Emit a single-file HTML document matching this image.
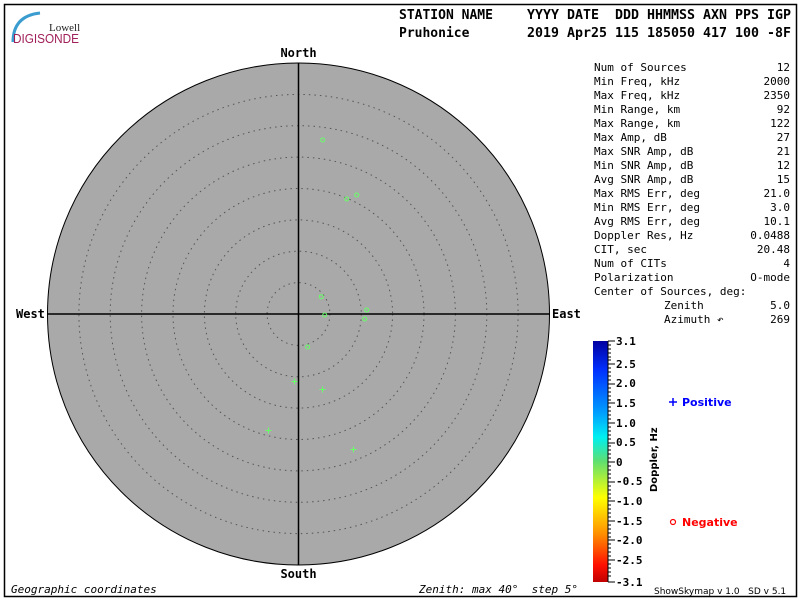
<!DOCTYPE html>
<html><head><meta charset="utf-8"><style>
body{margin:0;background:#fff;}
svg text{font-family:"DejaVu Sans Mono","Liberation Mono",monospace;white-space:pre;}
</style></head><body>
<svg width="800" height="600" xmlns="http://www.w3.org/2000/svg" xml:space="preserve">
<defs>
<linearGradient id="cb" x1="0" y1="0" x2="0" y2="1">
<stop offset="0" stop-color="#0000a0"/>
<stop offset="0.12" stop-color="#0030ff"/>
<stop offset="0.3" stop-color="#00a0ff"/>
<stop offset="0.4" stop-color="#00f0f0"/>
<stop offset="0.5" stop-color="#60e070"/>
<stop offset="0.65" stop-color="#ffff00"/>
<stop offset="0.8" stop-color="#ff9000"/>
<stop offset="0.93" stop-color="#ff1000"/>
<stop offset="1" stop-color="#c00000"/>
</linearGradient>
</defs>
<rect x="4.5" y="4.5" width="792" height="592" fill="none" stroke="#000" stroke-width="1.5"/>
<path d="M13 42 Q13 16 40 13" fill="none" stroke="#3a9ccf" stroke-width="3"/>
<text x="49" y="31" font-size="11" fill="#222" style="font-family:'Liberation Serif',serif">Lowell</text>
<text x="13" y="43" font-size="13" fill="#a0205a" textLength="66" lengthAdjust="spacingAndGlyphs" style="font-family:'Liberation Sans',sans-serif">DIGISONDE</text>
<g font-weight="bold" font-size="13" fill="#000">
<text x="399" y="19">STATION NAME</text>
<text x="527" y="19" textLength="264" lengthAdjust="spacingAndGlyphs">YYYY DATE  DDD HHMMSS AXN PPS IGP</text>
<text x="399" y="37">Pruhonice</text>
<text x="527" y="37" textLength="264" lengthAdjust="spacingAndGlyphs">2019 Apr25 115 185050 417 100 -8F</text>
</g>
<circle cx="298.5" cy="314" r="251" fill="#a9a9a9" stroke="#000" stroke-width="1"/>
<g fill="none" stroke="#555" stroke-width="1" stroke-dasharray="1.5 4">
<circle cx="298.5" cy="314" r="31.4"/><circle cx="298.5" cy="314" r="62.8"/>
<circle cx="298.5" cy="314" r="94.1"/><circle cx="298.5" cy="314" r="125.5"/>
<circle cx="298.5" cy="314" r="156.9"/><circle cx="298.5" cy="314" r="188.3"/>
<circle cx="298.5" cy="314" r="219.6"/>
</g>
<line x1="298.5" y1="63" x2="298.5" y2="565" stroke="#000" stroke-width="1.5"/>
<line x1="47.5" y1="314" x2="549.5" y2="314" stroke="#000" stroke-width="1.5"/>
<g font-weight="bold" font-size="12" fill="#000">
<text x="298.5" y="57" text-anchor="middle">North</text>
<text x="298.5" y="578" text-anchor="middle">South</text>
<text x="16" y="318">West</text>
<text x="552" y="318">East</text>
</g>
<g fill="none" stroke="#66ff66" stroke-width="1">
<circle cx="322.7" cy="140" r="2"/><circle cx="346.7" cy="199" r="2"/><circle cx="356.7" cy="195" r="2"/>
<circle cx="321.3" cy="296.7" r="2"/><circle cx="324.7" cy="315" r="2"/><circle cx="366.7" cy="310" r="2"/>
<circle cx="364.7" cy="319" r="2"/><circle cx="307.7" cy="347" r="2"/>
<path d="M291.5 381.5h6M294.5 378.5v6M319.5 389.5h6M322.5 386.5v6M265.5 430.5h6M268.5 427.5v6M350.5 449.5h6M353.5 446.5v6"/>
</g>
<g font-size="11" fill="#000" font-style="italic">
<text x="11" y="593">Geographic coordinates</text>
<text x="419" y="593">Zenith: max 40°  step 5°</text>
</g>
<g font-size="11" fill="#000">
<text x="594" y="71">Num of Sources</text><text x="790" y="71" text-anchor="end">12</text>
<text x="594" y="85">Min Freq, kHz</text><text x="790" y="85" text-anchor="end">2000</text>
<text x="594" y="99">Max Freq, kHz</text><text x="790" y="99" text-anchor="end">2350</text>
<text x="594" y="113">Min Range, km</text><text x="790" y="113" text-anchor="end">92</text>
<text x="594" y="127">Max Range, km</text><text x="790" y="127" text-anchor="end">122</text>
<text x="594" y="141">Max Amp, dB</text><text x="790" y="141" text-anchor="end">27</text>
<text x="594" y="155">Max SNR Amp, dB</text><text x="790" y="155" text-anchor="end">21</text>
<text x="594" y="169">Min SNR Amp, dB</text><text x="790" y="169" text-anchor="end">12</text>
<text x="594" y="183">Avg SNR Amp, dB</text><text x="790" y="183" text-anchor="end">15</text>
<text x="594" y="197">Max RMS Err, deg</text><text x="790" y="197" text-anchor="end">21.0</text>
<text x="594" y="211">Min RMS Err, deg</text><text x="790" y="211" text-anchor="end">3.0</text>
<text x="594" y="225">Avg RMS Err, deg</text><text x="790" y="225" text-anchor="end">10.1</text>
<text x="594" y="239">Doppler Res, Hz</text><text x="790" y="239" text-anchor="end">0.0488</text>
<text x="594" y="253">CIT, sec</text><text x="790" y="253" text-anchor="end">20.48</text>
<text x="594" y="267">Num of CITs</text><text x="790" y="267" text-anchor="end">4</text>
<text x="594" y="281">Polarization</text><text x="790" y="281" text-anchor="end">O-mode</text>
<text x="594" y="295">Center of Sources, deg:</text>
<text x="664" y="309">Zenith</text><text x="790" y="309" text-anchor="end">5.0</text>
<text x="664" y="323">Azimuth ↶</text><text x="790" y="323" text-anchor="end">269</text>
</g>
<rect x="593" y="341" width="15" height="241" fill="url(#cb)"/>
<line x1="608" y1="341" x2="608" y2="582" stroke="#000" stroke-width="1"/>
<g font-size="11" font-weight="bold" fill="#000">
<text x="616" y="345">3.1</text><text x="616" y="368">2.5</text><text x="616" y="387">2.0</text>
<text x="616" y="407">1.5</text><text x="616" y="427">1.0</text><text x="616" y="446">0.5</text>
<text x="616" y="466">0</text><text x="616" y="485">-0.5</text><text x="616" y="505">-1.0</text>
<text x="616" y="525">-1.5</text><text x="616" y="544">-2.0</text><text x="616" y="564">-2.5</text>
<text x="616" y="586">-3.1</text>
</g>
<g stroke="#000" stroke-width="1">
<path d="M608 341h7M608 364h7M608 384h7M608 403h7M608 423h7M608 443h7M608 462h7M608 482h7M608 501h7M608 521h7M608 540h7M608 560h7M608 582h7"/>
<path d="M608 345h3M608 349h3M608 353h3M608 357h3M608 360h3M608 368h3M608 372h3M608 376h3M608 380h3M608 388h3M608 392h3M608 396h3M608 400h3M608 407h3M608 411h3M608 415h3M608 419h3M608 427h3M608 431h3M608 435h3M608 439h3M608 446h3M608 450h3M608 454h3M608 458h3M608 466h3M608 470h3M608 474h3M608 478h3M608 486h3M608 490h3M608 494h3M608 498h3M608 505h3M608 509h3M608 513h3M608 517h3M608 525h3M608 529h3M608 533h3M608 537h3M608 544h3M608 548h3M608 552h3M608 556h3M608 564h3M608 568h3M608 572h3M608 576h3"/>
</g>
<text transform="translate(657,492) rotate(-90)" font-size="10" font-weight="bold" fill="#000" style="font-family:'DejaVu Sans',sans-serif">Doppler, Hz</text>
<path d="M669 402h8M673 398v8" stroke="#0000ff" stroke-width="1.5"/>
<text x="682" y="406" font-size="11" font-weight="bold" fill="#0000ff" style="font-family:'DejaVu Sans',sans-serif">Positive</text>
<circle cx="673" cy="522" r="2.5" fill="none" stroke="#ff0000" stroke-width="1.2"/>
<text x="682" y="526" font-size="11" font-weight="bold" fill="#ff0000" style="font-family:'DejaVu Sans',sans-serif">Negative</text>
<text x="654" y="594" font-size="9" fill="#000" style="font-family:'DejaVu Sans',sans-serif">ShowSkymap v 1.0   SD v 5.1</text>
</svg>
</body></html>
